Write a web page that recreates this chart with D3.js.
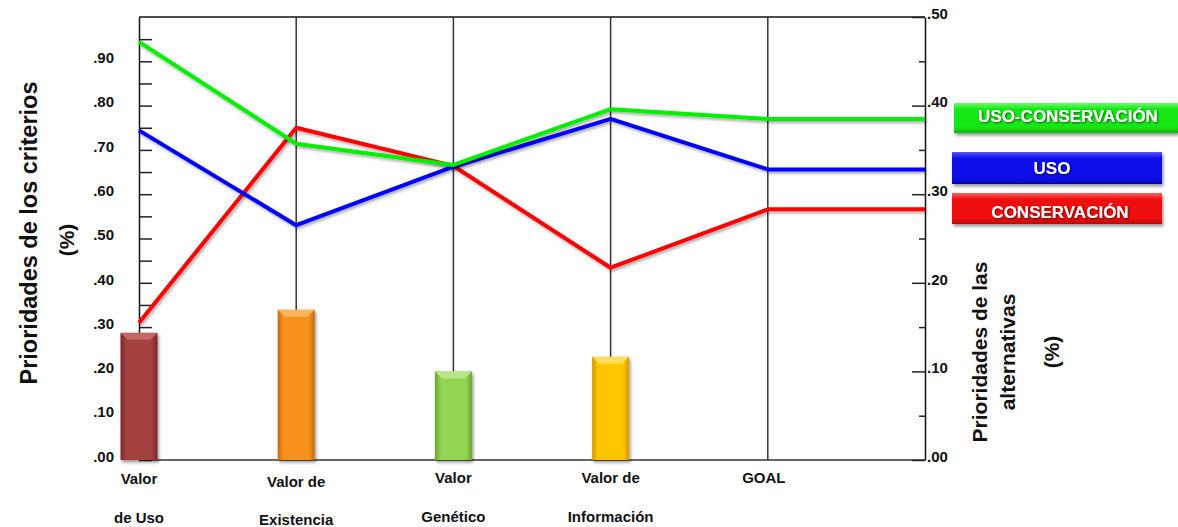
<!DOCTYPE html>
<html>
<head>
<meta charset="utf-8">
<script src="https://cdn.jsdelivr.net/npm/d3@7"></script>
<style>
  html, body { margin: 0; padding: 0; background: #fff; }
  svg { display: block; font-family: "Liberation Sans", Arial, sans-serif; font-weight: bold; }
</style>
</head>
<body>
<svg id="chart" width="1178" height="527"></svg>
<script>
// Criteria (bars, left axis) and alternatives (lines, right axis)
const criteria = ["Valor de Uso", "Valor de Existencia", "Valor Genético", "Valor de Información", "GOAL"];
const criteriaLabels = [["Valor", "de Uso"], ["Valor de", "Existencia"], ["Valor", "Genético"], ["Valor de", "Información"], ["GOAL"]];
const criteriaWeights = [0.287, 0.339, 0.200, 0.233];

const alternatives = ["USO-CONSERVACIÓN", "USO", "CONSERVACIÓN"];
const usoConservacion = [0.472, 0.357, 0.333, 0.396, 0.385];
const uso = [0.372, 0.265, 0.331, 0.385, 0.328];
const conservacion = [0.155, 0.375, 0.332, 0.217, 0.283];

const leftTicks = [0, 0.1, 0.2, 0.3, 0.4, 0.5, 0.6, 0.7, 0.8, 0.9];
const leftMinorTicks = [0.05, 0.15, 0.25, 0.35, 0.45, 0.55, 0.65, 0.75, 0.85, 0.95];
const rightTicks = [0, 0.1, 0.2, 0.3, 0.4, 0.5];
const rightMinorTicks = [0.05, 0.15, 0.25, 0.35, 0.45];

const series = [
  { name: alternatives[0], values: usoConservacion, color: "#00f000", box: ["#6cff6c", "#18e818", "#0cb40c"] },
  { name: alternatives[1], values: uso, color: "#0000ff", box: ["#5656ff", "#0c0cea", "#0505b0"] },
  { name: alternatives[2], values: conservacion, color: "#ff0000", box: ["#ff6060", "#f01010", "#bb0606"] }
];
const barColors = [
  ["#c86a6a", "#a33f3f", "#7a2828"],
  ["#ffb860", "#f7921f", "#c46a0c"],
  ["#bce88c", "#94d452", "#6aa42c"],
  ["#ffe066", "#ffc600", "#d09a00"]
];

const svg = d3.select("#chart");
const margin = { left: 139, right: 925, top: 17, bottom: 460 };

const x = d3.scaleLinear().domain([0, criteria.length]).range([margin.left, margin.right]);
const yL = d3.scaleLinear().domain([0, 1]).range([margin.bottom, margin.top]);
const yR = d3.scaleLinear().domain([0, 0.5]).range([margin.bottom, margin.top]);

const defs = svg.append("defs");
function dropShadow(id, dx, dy, sd, op) {
  const f = defs.append("filter").attr("id", id)
    .attr("x", "-20%").attr("y", "-20%").attr("width", "140%").attr("height", "150%");
  f.append("feDropShadow").attr("dx", dx).attr("dy", dy).attr("stdDeviation", sd)
    .attr("flood-color", "#000").attr("flood-opacity", op);
}
dropShadow("lineShadow", 1.5, 2, 1.5, 0.35);
dropShadow("boxShadow", 1.5, 2.5, 1.8, 0.4);
dropShadow("textShadow", 1, 1, 0.8, 0.6);

function hGradient(id, c) {
  const g = defs.append("linearGradient").attr("id", id).attr("x1", 0).attr("x2", 1).attr("y1", 0).attr("y2", 0);
  g.append("stop").attr("offset", "0%").attr("stop-color", c[2]);
  g.append("stop").attr("offset", "16%").attr("stop-color", c[1]);
  g.append("stop").attr("offset", "84%").attr("stop-color", c[1]);
  g.append("stop").attr("offset", "100%").attr("stop-color", c[2]);
}
function vGradient(id, c) {
  const g = defs.append("linearGradient").attr("id", id).attr("x1", 0).attr("x2", 0).attr("y1", 0).attr("y2", 1);
  g.append("stop").attr("offset", "0%").attr("stop-color", c[0]);
  g.append("stop").attr("offset", "20%").attr("stop-color", c[1]);
  g.append("stop").attr("offset", "80%").attr("stop-color", c[1]);
  g.append("stop").attr("offset", "100%").attr("stop-color", c[2]);
}
barColors.forEach((c, i) => hGradient("bar" + i, c));
series.forEach((s, i) => vGradient("box" + i, s.box));

// Vertical separators at each criterion
svg.append("g").selectAll("line")
  .data(d3.range(1, criteria.length))
  .join("line")
  .attr("x1", d => x(d)).attr("x2", d => x(d))
  .attr("y1", margin.top).attr("y2", margin.bottom)
  .attr("stroke", "#333").attr("stroke-width", 1.5);

// Frame: top and bottom edges
svg.append("line").attr("x1", margin.left).attr("x2", margin.right)
  .attr("y1", margin.top).attr("y2", margin.top).attr("stroke", "#111").attr("stroke-width", 1.5);
svg.append("line").attr("x1", margin.left).attr("x2", margin.right)
  .attr("y1", margin.bottom).attr("y2", margin.bottom).attr("stroke", "#333").attr("stroke-width", 1.5);

// Left axis (criteria priorities)
const fmt = d => d3.format(".2f")(d).replace(/^0/, "");
const leftAxis = svg.append("g").attr("transform", `translate(${margin.left},0)`)
  .call(d3.axisLeft(yL).tickValues(leftTicks).tickFormat(fmt).tickSize(-13).tickSizeOuter(0).tickPadding(25));
svg.append("g").attr("transform", `translate(${margin.left},0)`)
  .call(d3.axisLeft(yL).tickValues(leftMinorTicks).tickFormat("").tickSize(-13).tickSizeOuter(0))
  .call(g => g.select(".domain").remove());

// Right axis (alternative priorities)
const rightAxis = svg.append("g").attr("transform", `translate(${margin.right},0)`)
  .call(d3.axisRight(yR).tickValues(rightTicks).tickFormat(fmt).tickSize(-13).tickSizeOuter(0).tickPadding(2));
svg.append("g").attr("transform", `translate(${margin.right},0)`)
  .call(d3.axisRight(yR).tickValues(rightMinorTicks).tickFormat("").tickSize(-6).tickSizeOuter(0))
  .call(g => g.select(".domain").remove());

svg.selectAll(".tick line").attr("stroke", "#222").attr("stroke-width", 1.5);
svg.selectAll(".domain").attr("stroke", "#111").attr("stroke-width", 1.5);
[leftAxis, rightAxis].forEach(a => a.selectAll("text")
  .attr("font-size", 15).attr("font-weight", "bold").attr("fill", "#111")
  .attr("font-family", "Liberation Sans, Arial, sans-serif").attr("dy", "0.08em"));

// Criteria weight bars with bevelled look (drawn over the axis)
const barW = 37;
const bars = svg.append("g").selectAll("g").data(criteriaWeights).join("g")
  .attr("filter", "url(#boxShadow)");
bars.append("rect")
  .attr("x", (d, i) => x(i) - barW / 2)
  .attr("y", d => yL(d))
  .attr("width", barW)
  .attr("height", d => yL(0) - yL(d))
  .attr("fill", (d, i) => `url(#bar${i})`);
bars.append("path")
  .attr("d", (d, i) => {
    const x0 = x(i) - barW / 2, x1 = x(i) + barW / 2, t = yL(d), b = 7;
    return `M${x0},${t}L${x1},${t}L${x1 - b},${t + b}L${x0 + b},${t + b}Z`;
  })
  .attr("fill", (d, i) => barColors[i][0]).attr("opacity", 0.9);

// Alternative lines, extended flat from GOAL to the right axis
const line = d3.line().x(d => x(d[0])).y(d => yR(d[1]));
svg.append("g").selectAll("path").data(series.slice().reverse()).join("path")
  .attr("d", s => {
    const pts = s.values.map((v, i) => [i, v]);
    pts.push([criteria.length, s.values[s.values.length - 1]]);
    return line(pts);
  })
  .attr("fill", "none")
  .attr("stroke", s => s.color)
  .attr("stroke-width", 4)
  .attr("stroke-linejoin", "round")
  .attr("filter", "url(#lineShadow)");

// Category labels
const xl = svg.append("g").selectAll("text").data(criteriaLabels).join("text")
  .attr("text-anchor", "middle")
  .attr("font-size", 15)
  .attr("fill", "#111");
const firstLineY = [484, 487, 483, 483, 483];
const secondLineY = [523, 525, 522, 522, 522];
xl.each(function (lines, i) {
  const t = d3.select(this);
  const cx = i === criteria.length - 1 ? x(i) - 4 : x(i);
  t.append("tspan").attr("x", cx).attr("y", firstLineY[i]).text(lines[0]);
  if (lines[1]) t.append("tspan").attr("x", cx).attr("y", secondLineY[i]).text(lines[1]);
});

// Axis titles
svg.append("text").attr("transform", "translate(37,233) rotate(-90)")
  .attr("text-anchor", "middle").attr("font-size", 23.5).attr("fill", "#111")
  .text("Prioridades de los criterios");
svg.append("text").attr("transform", "translate(74,240) rotate(-90)")
  .attr("text-anchor", "middle").attr("font-size", 21).attr("fill", "#111")
  .text("(%)");
const rightTitle = [["Prioridades de las", 987], ["alternativas", 1015], ["(%)", 1059]];
svg.append("g").selectAll("text").data(rightTitle).join("text")
  .attr("transform", d => `translate(${d[1]},352) rotate(-90)`)
  .attr("text-anchor", "middle").attr("font-size", 21).attr("fill", "#111")
  .text(d => d[0]);

// Legend boxes
const legendBoxes = [
  { x0: 954, x1: 1178, y0: 103, y1: 133, base: 122, cx: 1068 },
  { x0: 952, x1: 1162, y0: 152, y1: 184, base: 174, cx: 1052 },
  { x0: 952, x1: 1162, y0: 193, y1: 224, base: 218, cx: 1060 }
];
const lg = svg.append("g").selectAll("g").data(series).join("g");
lg.append("rect")
  .attr("x", (d, i) => legendBoxes[i].x0)
  .attr("y", (d, i) => legendBoxes[i].y0)
  .attr("width", (d, i) => legendBoxes[i].x1 - legendBoxes[i].x0)
  .attr("height", (d, i) => legendBoxes[i].y1 - legendBoxes[i].y0)
  .attr("fill", (d, i) => `url(#box${i})`)
  .attr("filter", "url(#boxShadow)");
lg.append("text")
  .attr("x", (d, i) => legendBoxes[i].cx)
  .attr("y", (d, i) => legendBoxes[i].base)
  .attr("text-anchor", "middle")
  .attr("font-size", 17)
  .attr("fill", "#fff")
  .attr("filter", "url(#textShadow)")
  .text(d => d.name);
</script>
</body>
</html>
